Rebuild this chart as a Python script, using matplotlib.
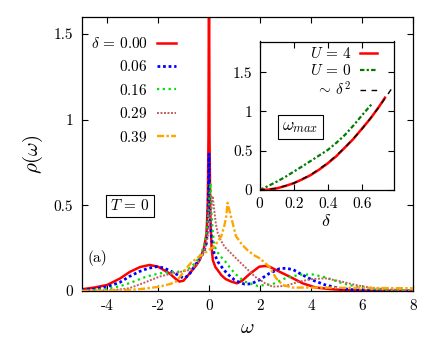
import matplotlib
matplotlib.use("Agg")
import matplotlib.pyplot as plt

plt.rcParams['font.family'] = 'serif'
plt.rcParams['font.serif'] = ['cmr10', 'DejaVu Serif']
plt.rcParams['mathtext.fontset'] = 'cm'
plt.rcParams['axes.unicode_minus'] = False
plt.rcParams['axes.formatter.use_mathtext'] = True

# ---------------- main panel data: rho(omega) ----------------
w_d000 = [-5, -4.5, -4, -3.5, -3.1, -2.7, -2.33, -2.0, -1.55, -1.3, -1.16, -1.0, -0.76, -0.5,
          -0.37, -0.2, -0.1, -0.05, -0.02, 0, 0.02, 0.05, 0.1, 0.15, 0.25, 0.35, 0.48, 0.65,
          0.87, 1.1, 1.3, 1.6, 1.97, 2.2, 2.37, 2.76, 3.28, 3.67, 4.19, 4.84, 5.5, 6.5, 8]
r_d000 = [0.01, 0.02, 0.035, 0.072, 0.112, 0.14, 0.152, 0.142, 0.103, 0.07, 0.055, 0.06,
          0.103, 0.15, 0.18, 0.25, 0.33, 0.5, 0.9, 2.0, 0.9, 0.45, 0.26, 0.18, 0.14, 0.12,
          0.093, 0.07, 0.055, 0.045, 0.06, 0.1, 0.142, 0.146, 0.142, 0.113, 0.075, 0.045,
          0.02, 0.01, 0.004, 0.001, 0.0]

w_d006 = [-5, -4.5, -4, -3.5, -3.13, -2.74, -2.4, -2.07, -1.8, -1.55, -1.3, -1.0, -0.8, -0.5,
          -0.3, -0.18, -0.1, -0.05, -0.02, 0, 0.02, 0.05, 0.08, 0.14, 0.2, 0.35, 0.6, 0.8,
          1.0, 1.2, 1.4, 1.65, 1.97, 2.37, 2.76, 3.0, 3.3, 3.55, 4.05, 4.57, 5.1, 5.6, 6.2, 7, 8]
r_d006 = [0.005, 0.012, 0.025, 0.05, 0.084, 0.113, 0.132, 0.142, 0.136, 0.12, 0.1, 0.075,
          0.09, 0.16, 0.2, 0.24, 0.28, 0.4, 0.6, 0.8, 0.6, 0.42, 0.34, 0.27, 0.22, 0.17, 0.12,
          0.09, 0.065, 0.05, 0.04, 0.042, 0.064, 0.103, 0.13, 0.133, 0.125, 0.103, 0.064,
          0.035, 0.016, 0.008, 0.004, 0.001, 0.0]

w_d016 = [-5, -4.5, -4, -3.5, -3.13, -2.46, -1.94, -1.5, -1.16, -0.9, -0.7, -0.5, -0.37, -0.2,
          -0.1, -0.03, 0.02, 0.06, 0.1, 0.15, 0.22, 0.4, 0.6, 0.8, 1.0, 1.2, 1.4, 1.9, 2.5,
          3.0, 3.55, 4.05, 4.57, 5.23, 5.8, 6.5, 7.2, 8]
r_d016 = [0.002, 0.006, 0.013, 0.028, 0.045, 0.084, 0.103, 0.11, 0.113, 0.12, 0.14, 0.17,
          0.2, 0.26, 0.34, 0.45, 0.56, 0.63, 0.45, 0.34, 0.26, 0.21, 0.18, 0.14, 0.105, 0.078,
          0.055, 0.03, 0.04, 0.075, 0.095, 0.097, 0.08, 0.045, 0.025, 0.012, 0.006, 0.003]

w_d029 = [-5, -4.5, -4, -3.5, -3.13, -2.6, -1.94, -1.43, -1.0, -0.76, -0.5, -0.37, -0.2, -0.1,
          0.0, 0.07, 0.14, 0.2, 0.27, 0.34, 0.45, 0.6, 0.8, 1.0, 1.2, 1.4, 1.8, 2.2, 2.5, 3.0,
          3.55, 4.05, 4.57, 5.2, 5.75, 6.3, 7, 8]
r_d029 = [0.001, 0.002, 0.004, 0.009, 0.016, 0.045, 0.084, 0.103, 0.115, 0.123, 0.15, 0.18,
          0.23, 0.28, 0.36, 0.47, 0.555, 0.48, 0.39, 0.34, 0.3, 0.26, 0.23, 0.2, 0.17, 0.142,
          0.084, 0.045, 0.025, 0.03, 0.055, 0.07, 0.074, 0.055, 0.035, 0.02, 0.01, 0.003]

w_d039 = [-5, -4, -3.13, -2.5, -1.94, -1.5, -1.29, -1.1, -0.9, -0.7, -0.4, -0.18, 0.0, 0.2,
          0.35, 0.48, 0.6, 0.67, 0.73, 0.8, 0.87, 1.06, 1.3, 1.5, 1.75, 2.0, 2.37, 2.63, 2.89,
          3.28, 4, 5, 6, 7, 8]
r_d039 = [0.0, 0.002, 0.006, 0.014, 0.025, 0.042, 0.055, 0.09, 0.13, 0.165, 0.2, 0.22, 0.24,
          0.26, 0.29, 0.32, 0.38, 0.43, 0.515, 0.47, 0.43, 0.32, 0.27, 0.24, 0.21, 0.19, 0.14,
          0.075, 0.035, 0.02, 0.02, 0.019, 0.018, 0.017, 0.016]

series_labels = [r'$\delta\,=\,0.00$', r'$0.06$', r'$0.16$', r'$0.29$', r'$0.39$']

# ---------------- inset data: omega_max(delta) ----------------
delta_U4 = [0, 0.05, 0.1, 0.15, 0.2, 0.25, 0.3, 0.35, 0.4, 0.45, 0.5, 0.55, 0.6, 0.65, 0.7, 0.735]
wmax_U4 = [0, 0.005, 0.02, 0.05, 0.086, 0.135, 0.19, 0.26, 0.34, 0.43, 0.54, 0.65, 0.78,
           0.91, 1.06, 1.175]
delta_U0 = [0, 0.05, 0.1, 0.15, 0.2, 0.25, 0.3, 0.35, 0.4, 0.45, 0.5, 0.55, 0.6, 0.66]
wmax_U0 = [0, 0.05, 0.105, 0.165, 0.233, 0.3, 0.37, 0.44, 0.51, 0.6, 0.7, 0.82, 0.95, 1.10]
delta_fit = [0, 0.1, 0.2, 0.3, 0.4, 0.5, 0.6, 0.7, 0.78]
wmax_fit = [0, 0.0215, 0.086, 0.194, 0.344, 0.538, 0.774, 1.054, 1.308]
inset_labels = [r'$U\,=\,4$', r'$U\,=\,0$', r'$\sim\,\delta^2$']

main_xticks = [-4, -2, 0, 2, 4, 6, 8]
main_xticklabels = ['-4', '-2', '0', '2', '4', '6', '8']
main_yticks = [0, 0.5, 1, 1.5]
main_yticklabels = ['0', '0.5', '1', '1.5']
inset_xticks = [0, 0.2, 0.4, 0.6]
inset_xticklabels = ['0', '0.2', '0.4', '0.6']
inset_yticks = [0, 0.5, 1, 1.5]
inset_yticklabels = ['0', '0.5', '1', '1.5']

W, H = 436, 339
fig = plt.figure(figsize=(W / 100, H / 100), dpi=100)

ax = fig.add_axes([81.5 / W, 1 - 291 / H, (413 - 81.5) / W, (291 - 17) / H])
ax.plot(w_d000, r_d000, color='#ff0000', lw=1.8, ls='-', label=series_labels[0], zorder=2)
ax.plot(w_d006, r_d006, color='#0000ff', lw=2.0, ls=(0, (1, 1)), label=series_labels[1], zorder=3)
ax.plot(w_d016, r_d016, color='#00e000', lw=1.6, ls=(0, (1, 1.6)), label=series_labels[2], zorder=4)
ax.plot(w_d029, r_d029, color='#c06060', lw=1.4, ls=(0, (1, 0.8)), label=series_labels[3], zorder=5)
ax.plot(w_d039, r_d039, color='#ffa500', lw=1.7, ls=(0, (3, 1, 1, 1)), label=series_labels[4], zorder=6)

ax.set_xlim(-5, 8)
ax.set_ylim(0, 1.6)
ax.set_xticks(main_xticks, main_xticklabels)
ax.set_yticks(main_yticks, main_yticklabels)
ax.tick_params(direction='in', top=True, right=True, length=4, width=0.8, labelsize=11, pad=6)
for s in ax.spines.values():
    s.set_linewidth(0.9)
ax.set_xlabel(r'$\omega$', fontsize=15, labelpad=4)
ax.set_ylabel(r'$\rho(\omega)$', fontsize=15, labelpad=6)

leg = ax.legend(loc='upper right', bbox_to_anchor=(176 / W, 1 - 36 / H),
                bbox_transform=fig.transFigure, frameon=False, markerfirst=False,
                fontsize=11, handlelength=1.25, handletextpad=0.6, labelspacing=0.55,
                borderpad=0, borderaxespad=0)

ax.text(130 / W, 1 - 206 / H, r'$T\,=\,0$', transform=fig.transFigure, fontsize=11,
        ha='center', va='center', zorder=10,
        bbox=dict(boxstyle='square,pad=0.25', fc='white', ec='black', lw=0.8))
ax.text(97 / W, 1 - 258 / H, '(a)', transform=fig.transFigure, fontsize=11,
        ha='center', va='center')

# ---------------- inset ----------------
ins = fig.add_axes([259.5 / W, 1 - 190 / H, (393.5 - 259.5) / W, (190 - 41.5) / H])
ins.plot(delta_U4, wmax_U4, color='#ff0000', lw=1.8, ls='-', label=inset_labels[0], zorder=3)
ins.plot(delta_U0, wmax_U0, color='#007a00', lw=1.6, ls=(0, (2, 1, 1, 1)), label=inset_labels[1], zorder=2)
ins.plot(delta_fit, wmax_fit, color='black', lw=1.0, ls=(0, (4, 4)), label=inset_labels[2], zorder=4)
ins.set_xlim(0, 0.785)
ins.set_ylim(0, 1.89)
ins.set_xticks(inset_xticks, inset_xticklabels)
ins.set_yticks(inset_yticks, inset_yticklabels)
ins.tick_params(direction='in', top=True, right=True, length=4, width=0.8, labelsize=11, pad=5)
for s in ins.spines.values():
    s.set_linewidth(0.9)
ins.set_xlabel(r'$\delta$', fontsize=13, labelpad=2)

ins.legend(loc='upper right', bbox_to_anchor=(377 / W, 1 - 46 / H),
           bbox_transform=fig.transFigure, frameon=False, markerfirst=False,
           fontsize=11, handlelength=1.1, handletextpad=0.6, labelspacing=0.15,
           borderpad=0, borderaxespad=0)
ins.text(300.5 / W, 1 - 127 / H, r'$\omega_{max}$', transform=fig.transFigure, fontsize=12.5,
         ha='center', va='center',
         bbox=dict(boxstyle='square,pad=0.25', fc='white', ec='black', lw=0.8))

fig.savefig('out.png', dpi=100)
